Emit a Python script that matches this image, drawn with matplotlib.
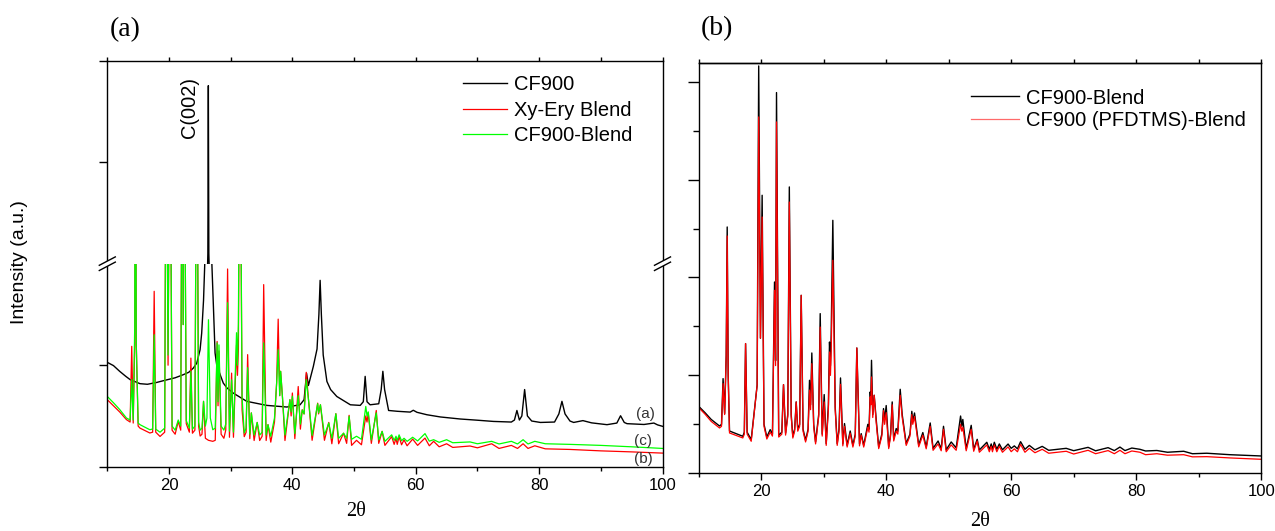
import matplotlib
matplotlib.use("Agg")
import matplotlib.pyplot as plt
from matplotlib.lines import Line2D
from matplotlib.patches import Polygon
from matplotlib.ticker import MultipleLocator

W, H = 1275, 531

# ---------------------------------------------------------------------------
# Panel (a): vertices (2theta, intensity a.u.)
# lower segment 0..100, upper segment 400..1400 (broken axis)
# ---------------------------------------------------------------------------
cf900_pts = [
    (10, 51.4), (11, 49.8), (12, 47), (13, 44.5), (13.7, 42.9), (15.3, 40.9),
    (16.5, 40.6), (18, 41.5), (19, 42.3), (20.2, 43.2), (21, 43.8), (22.3, 45.3),
    (23.2, 46.5), (23.95, 48.6), (24.5, 51), (25.04, 57.6), (25.3, 65.8),
    (25.6, 82), (25.8, 100), (26.1, 180), (26.3, 450), (26.38, 1277),
    (26.46, 450), (26.7, 180), (26.95, 100), (27.2, 79), (27.47, 56),
    (27.74, 50), (28.3, 45.3), (28.8, 41.2), (29.4, 38.8), (30.4, 36.3),
    (32.6, 32.2), (35.85, 30.2), (39.1, 29.4), (41.25, 30.5), (41.9, 33),
    (42.3, 46), (42.6, 40), (43.4, 49.4), (44.0, 58), (44.3, 75), (44.5, 91.8),
    (44.7, 75), (45.0, 55), (45.6, 42), (46.2, 38), (47.2, 34.6), (49.4, 30.5),
    (51.0, 30.2), (51.5, 32), (51.8, 44.5), (52.1, 32), (52.6, 30.5),
    (54.0, 31), (54.4, 38), (54.67, 47), (54.95, 38), (55.6, 27.7), (57, 27.3),
    (59.1, 26.9), (59.6, 27.8), (60.2, 26.8), (61.8, 25.6), (64, 24.5),
    (67.2, 23.5), (70, 22.9), (72.6, 22.3), (75.5, 22), (76.0, 23), (76.4, 27.7),
    (76.8, 23), (77.2, 25), (77.65, 38), (78.1, 25), (78.8, 22.5), (80.2, 21.8),
    (82.5, 22), (83.2, 26), (83.7, 32.2), (84.2, 26), (85.0, 22.5), (85.6, 21.8),
    (87.1, 22.7), (88.5, 21.6), (91.0, 20.7), (92.6, 21.5), (93.2, 25.1),
    (93.8, 21.8), (94.25, 21.2), (97, 20.8), (98.6, 21.5), (99.2, 20.6),
    (100, 19.9),
]

# (2theta, Xy-Ery Blend, CF900-Blend)
blend_pts = [
    (10, 33, 34.6), (11, 30, 31.5), (12, 27, 28.2), (13.1, 23.2, 24),
    (13.7, 22, 23), (13.96, 59.3, 42.9), (14.2, 21.5, 23), (14.45, 60, 70),
    (14.56, 200, 200), (14.7, 60, 60), (15.0, 20, 21.5), (15.3, 19, 20.7),
    (16.9, 16.6, 18.2), (17.35, 17, 18.6), (17.6, 86.4, 65), (17.85, 17, 18.5),
    (18.55, 14.9, 17), (19.3, 17, 19), (19.55, 200, 200), (19.85, 50, 55),
    (20.15, 200, 200), (20.5, 18, 20), (21.0, 16, 18), (21.5, 22.3, 23),
    (21.9, 18, 20), (22.15, 200, 200), (22.3, 70, 70), (22.45, 200, 200),
    (22.8, 21.2, 22.7), (23.3, 17, 19), (23.55, 53.5, 47), (23.8, 16.5, 18.5),
    (24.2, 18, 20), (24.5, 200, 200), (24.8, 20, 22), (25.05, 15.1, 18),
    (25.35, 16, 19), (25.6, 32.2, 32.2), (25.9, 14, 20), (26.15, 13.5, 24),
    (26.4, 13, 72.4), (26.7, 12.8, 24), (27.1, 12.5, 18.2), (27.5, 13, 19),
    (27.8, 61.7, 61), (27.95, 30, 32), (28.1, 57, 60), (28.45, 16, 20),
    (28.9, 14, 18), (29.2, 18, 21), (29.5, 97.4, 80.8), (29.8, 14.5, 17.5),
    (30.15, 46.1, 42.8), (30.45, 14.5, 17), (30.95, 60, 66), (31.1, 45, 50),
    (31.25, 58, 70.6), (31.5, 200, 200), (31.85, 28, 34), (32.2, 14.8, 16.6),
    (32.5, 17, 19), (32.75, 55.2, 48.8), (33.1, 13.8, 16), (33.35, 26.5, 26.5),
    (33.8, 12.9, 15.6), (34.3, 21.8, 21.8), (34.7, 12.9, 15.6), (35.1, 15, 17),
    (35.35, 89.7, 61), (35.75, 12.9, 15.6), (36.05, 20.7, 20.7), (36.5, 12.1, 15),
    (37.1, 22, 24), (37.45, 41.3, 41.3), (37.7, 72.7, 57.6), (37.95, 35, 35),
    (38.1, 47, 47), (38.4, 34, 34), (38.8, 12.9, 15.6), (39.6, 33, 33),
    (39.8, 25, 27), (40.0, 36.3, 34.7), (40.4, 13.8, 16.3), (40.95, 39.5, 35),
    (41.3, 18.5, 21), (41.6, 28, 28), (41.9, 26, 26), (42.25, 46.5, 42.9),
    (42.6, 33.5, 33.5), (43.2, 13, 15.4), (44.1, 31.3, 31), (44.25, 26, 26.5),
    (44.55, 30.5, 30.5), (45.2, 13, 15.6), (45.9, 21.8, 21.5), (46.4, 11.3, 14),
    (47.05, 26.1, 26.1), (47.5, 11.3, 14), (48.3, 16.5, 16.5), (48.8, 11.5, 14),
    (49.2, 25.3, 24.8), (49.6, 10.5, 13.5), (50.4, 13, 15), (51.2, 10.8, 13.5),
    (51.9, 25, 29.7), (52.1, 22, 25), (52.3, 26.5, 27), (52.8, 11.5, 13.2),
    (53.6, 27.7, 26.5), (54.0, 11.5, 13.2), (54.55, 17.4, 17.4), (55.0, 10.5, 12.5),
    (56.1, 14.8, 15.7), (56.5, 11, 13), (56.8, 14, 15), (57.0, 11, 13),
    (57.3, 14.8, 15.7), (57.7, 10.8, 12.8), (58.1, 13.2, 14), (58.6, 10.3, 12.5),
    (59.5, 13.6, 14.5), (60.3, 10.5, 12.7), (61.5, 14.1, 16.3), (62.2, 10.3, 12.6),
    (62.9, 12.5, 13.3), (63.8, 9.8, 12), (65.0, 11.3, 13.3), (66, 9.5, 11.8),
    (68.8, 10.2, 12.2), (70, 9.3, 11.3), (72.3, 11.3, 12.5), (73.5, 9, 11.2),
    (75.5, 10.5, 12.5), (76.5, 9, 11.2), (77.4, 11.3, 13.3), (78.2, 9, 11.2),
    (79.3, 10.3, 12.5), (81, 8.8, 11.3), (85, 8.5, 11), (90, 7.8, 10.5),
    (95, 7.3, 9.8), (100, 6.7, 9),
]

# ---------------------------------------------------------------------------
# Panel (b): (2theta, CF900-Blend, CF900 (PFDTMS)-Blend)
# ---------------------------------------------------------------------------
panel_b_pts = [
    (10, 684, 671), (11, 620, 605), (12, 550, 530), (13.33, 483, 463),
    (13.65, 500, 480), (13.9, 967, 916), (14.15, 610, 600), (14.4, 1200, 1200),
    (14.56, 2516, 2424), (14.72, 1000, 1000), (14.93, 432, 412), (17.06, 378, 361),
    (17.3, 420, 400), (17.5, 1325, 1325), (17.75, 420, 400), (18.4, 344, 327),
    (19.35, 900, 900), (19.6, 4161, 3640), (19.88, 1380, 1380), (20.15, 2840, 2618),
    (20.45, 500, 480), (20.9, 371, 350), (21.44, 446, 420), (21.8, 400, 380),
    (22.13, 1954, 1869), (22.3, 1150, 1100), (22.45, 3889, 3589), (22.8, 388, 370),
    (23.3, 420, 400), (23.57, 906, 906), (23.9, 410, 390), (24.25, 600, 580),
    (24.5, 2925, 2771), (24.8, 600, 580), (25.06, 378, 360), (25.35, 450, 430),
    (25.6, 729, 729), (25.85, 445, 430), (26.15, 500, 480), (26.4, 1818, 1818),
    (26.7, 450, 430), (27.1, 337, 320), (27.5, 450, 430), (27.73, 950, 850),
    (27.9, 700, 650), (28.1, 1229, 1120), (28.4, 500, 480), (28.7, 320, 300),
    (29.2, 600, 580), (29.44, 1631, 1494), (29.76, 400, 380), (30.08, 804, 729),
    (30.4, 303, 285), (30.75, 700, 650), (30.93, 1341, 1239), (31.08, 1100, 1000),
    (31.2, 1420, 1250), (31.46, 2584, 2176), (31.84, 677, 650), (32.16, 303, 285),
    (32.45, 450, 430), (32.69, 974, 909), (33.06, 300, 280), (33.33, 508, 480),
    (33.75, 286, 268), (34.24, 432, 410), (34.67, 286, 268), (35.05, 400, 380),
    (35.3, 1280, 1280), (35.73, 300, 280), (36.0, 405, 390), (36.4, 286, 268),
    (37.06, 500, 470), (37.25, 450, 420), (37.44, 831, 780), (37.54, 750, 700),
    (37.65, 1154, 984), (37.85, 600, 570), (38.08, 797, 797), (38.4, 550, 520),
    (38.8, 269, 252), (39.3, 400, 380), (39.57, 661, 640), (39.75, 550, 500),
    (40.0, 692, 620), (40.4, 269, 252), (40.7, 400, 380), (40.96, 729, 700),
    (41.2, 350, 330), (41.6, 457, 430), (41.86, 430, 400), (42.24, 858, 797),
    (42.56, 600, 570), (43.2, 303, 285), (43.8, 400, 380), (44.1, 633, 600),
    (44.25, 530, 500), (44.53, 616, 580), (45.2, 290, 270), (45.86, 416, 390),
    (46.4, 269, 250), (47.04, 514, 480), (47.5, 255, 235), (48.3, 330, 300),
    (48.8, 250, 230), (49.17, 480, 450), (49.6, 240, 220), (50.4, 320, 290),
    (51.2, 260, 235), (51.9, 585, 500), (52.1, 480, 430), (52.26, 550, 470),
    (52.8, 250, 230), (53.6, 490, 450), (54.0, 245, 225), (54.56, 347, 330),
    (54.9, 238, 215), (56.1, 317, 290), (56.5, 245, 220), (56.8, 300, 275),
    (57.0, 245, 220), (57.3, 317, 290), (57.7, 245, 220), (58.1, 300, 275),
    (58.6, 240, 215), (59.5, 299, 270), (60.0, 255, 221), (60.5, 280, 250),
    (61.0, 250, 220), (61.5, 323, 295), (62.2, 245, 215), (62.9, 285, 255),
    (63.8, 240, 210), (64.96, 275, 245), (66, 235, 205), (68.8, 255, 225),
    (70, 231, 197), (72.3, 265, 235), (73.5, 230, 200), (75.5, 262, 232),
    (76.5, 232, 200), (77.4, 268, 235), (78.2, 232, 200), (79.3, 258, 228),
    (80.6, 245, 215), (81.5, 228, 190), (83.3, 233, 200), (85, 215, 185),
    (87.6, 225, 190), (89, 200, 168), (91.3, 205, 170), (95, 190, 157),
    (100, 177, 143),
]

cf900_x, cf900_y = zip(*cf900_pts)
blend_x, xy_ery_y, cf900_blend_y = zip(*blend_pts)
b_x, b_blend_y, b_pfdtms_y = zip(*panel_b_pts)

plt.rcParams['font.family'] = ['Liberation Sans', 'DejaVu Sans']
plt.rcParams['axes.linewidth'] = 1.0
plt.rcParams['xtick.major.width'] = 1.0
plt.rcParams['xtick.minor.width'] = 1.0
plt.rcParams['ytick.major.width'] = 1.0
plt.rcParams['ytick.minor.width'] = 1.0

fig = plt.figure(figsize=(W / 100, H / 100), dpi=100)


def box(left, top, right, bottom):
    """pixel box -> figure fraction rect"""
    return [left / W, 1 - bottom / H, (right - left) / W, (bottom - top) / H]


ax_lo = fig.add_axes(box(107.3, 263.7, 662.5, 466.7))
ax_hi = fig.add_axes(box(107.3, 60.7, 662.5, 263.7))
ax_b = fig.add_axes(box(698.7, 63.0, 1261.2, 473.3))

# ---- panel (a) curves, drawn in both halves of the broken axis ----
for ax in (ax_lo, ax_hi):
    ax.plot(cf900_x, cf900_y, color='black', lw=1.0, label='CF900')
    ax.plot(blend_x, xy_ery_y, color='#ff0000', lw=0.9, label='Xy-Ery Blend')
    ax.plot(blend_x, cf900_blend_y, color='#00ff00', lw=0.9, label='CF900-Blend')
    ax.set_xlim(10, 100)
    ax.xaxis.set_major_locator(MultipleLocator(20))
    ax.xaxis.set_minor_locator(MultipleLocator(10))

ax_lo.set_ylim(0, 100)
ax_lo.set_yticks([0, 50])
ax_lo.spines['top'].set_visible(False)
ax_lo.tick_params(axis='x', which='major', direction='out', length=5,
                  labelsize=12, pad=3)
ax_lo.tick_params(axis='x', which='minor', direction='out', length=3)
ax_lo.tick_params(axis='y', direction='out', length=6, labelleft=False)

ax_hi.set_ylim(400, 1400)
ax_hi.set_yticks([900, 1400])
ax_hi.spines['bottom'].set_visible(False)
ax_hi.tick_params(axis='x', which='both', bottom=False, top=True,
                  labelbottom=False, direction='out', length=3)
ax_hi.tick_params(axis='y', direction='out', length=6, labelleft=False)

ax_hi.text(23.25, 1169, 'C(002)', rotation=90, ha='center', va='center',
           fontsize=14.4)

for lbl, xx, yy in [('(a)', 97.2, 26), ('(c)', 96.9, 12.7), ('(b)', 96.9, 3.8)]:
    ax_lo.text(xx, yy, lbl, ha='center', va='center', fontsize=11,
               color='#333333')

ax_hi.legend(handles=list(ax_lo.lines), loc='upper left',
             bbox_to_anchor=(462.7 / W, 1 - 75.5 / H),
             bbox_transform=fig.transFigure, frameon=False, fontsize=14.5,
             handlelength=2.18, handletextpad=0.36, labelspacing=0.32,
             borderpad=0, borderaxespad=0)

# ---- panel (b) ----
ax_b.plot(b_x, b_blend_y, color='black', lw=1.0, label='CF900-Blend')
ax_b.plot(b_x, b_pfdtms_y, color='#ff0000', lw=0.9,
          label='CF900 (PFDTMS)-Blend')
ax_b.set_xlim(10, 100)
ax_b.set_ylim(0, 4191)
ax_b.xaxis.set_major_locator(MultipleLocator(20))
ax_b.xaxis.set_minor_locator(MultipleLocator(10))
ax_b.yaxis.set_major_locator(MultipleLocator(1000))
ax_b.yaxis.set_minor_locator(MultipleLocator(500))
ax_b.tick_params(axis='x', which='major', direction='out', length=5,
                 labelsize=12, pad=3)
ax_b.tick_params(axis='x', which='minor', direction='out', length=3)
ax_b.tick_params(axis='y', which='major', direction='out', length=8,
                 labelleft=False)
ax_b.tick_params(axis='y', which='minor', direction='out', length=4)
top_b = ax_b.secondary_xaxis('top')
top_b.xaxis.set_major_locator(MultipleLocator(10))
top_b.tick_params(axis='x', direction='out', length=3, labeltop=False)

leg_b = ax_b.legend(loc='upper left', bbox_to_anchor=(970.7 / W, 1 - 88.5 / H),
                    bbox_transform=fig.transFigure, frameon=False,
                    fontsize=14.5, handlelength=2.41, handletextpad=0.33,
                    labelspacing=0.19, borderpad=0, borderaxespad=0)
leg_b.get_lines()[1].set_color('#ff6a6a')


# ---- axis break marks on panel (a) ----
def axis_break(xc, yc, dx=8.0, dy=4.2, gap=2.6):
    quad = [(xc - dx, yc + dy + gap), (xc + dx, yc - dy + gap),
            (xc + dx, yc - dy - gap), (xc - dx, yc + dy - gap)]
    fig.add_artist(Polygon([(x / W, 1 - y / H) for x, y in quad], closed=True,
                           fc='white', ec='none', transform=fig.transFigure,
                           zorder=10))
    for s in (gap, -gap):
        fig.add_artist(Line2D([(xc - dx) / W, (xc + dx) / W],
                              [1 - (yc + dy + s) / H, 1 - (yc - dy + s) / H],
                              color='black', lw=1.0, transform=fig.transFigure,
                              zorder=11))


axis_break(107.3, 263.7)
axis_break(662.5, 263.7)

# ---- labels ----
fig.text(125 / W, 1 - 30 / H, '(a)', family='Liberation Serif', fontsize=20,
         ha='center', va='center')
fig.text(717 / W, 1 - 29 / H, '(b)', family='Liberation Serif', fontsize=20,
         ha='center', va='center')
fig.text(19.5 / W, 1 - 262 / H, 'Intensity (a.u.)', rotation=90, fontsize=14,
         ha='center', va='center')
fig.text(356 / W, 1 - 511 / H, '2θ', family='Liberation Serif', fontsize=14.5,
         ha='center', va='center')
fig.text(980 / W, 1 - 521 / H, '2θ', family='Liberation Serif', fontsize=14.5,
         ha='center', va='center')

fig.savefig('out.png', dpi=100)
